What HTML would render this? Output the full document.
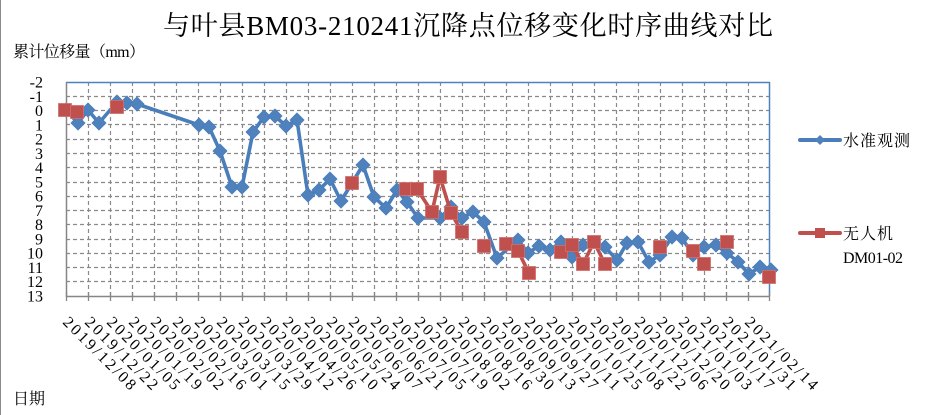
<!DOCTYPE html>
<html>
<head>
<meta charset="utf-8">
<style>
  html,body{margin:0;padding:0;background:#fff;}
  svg{display:block;}
  .cjk{font-family:"Liberation Serif","Noto Serif CJK SC",serif;fill:#000;}
  .yl{font-family:"Liberation Serif",serif;font-size:16px;fill:#000;text-anchor:end;}
  .xl{font-family:"Liberation Serif",serif;font-size:16px;fill:#000;}
</style>
</head>
<body>
<svg width="939" height="415" viewBox="0 0 939 415" xmlns="http://www.w3.org/2000/svg">
  <rect x="0" y="0" width="939" height="415" fill="#fff"/>
  <line x1="0.5" y1="0" x2="0.5" y2="415" stroke="#8a8a8a" stroke-width="1"/>

  <!-- Title -->
  <text class="cjk" x="163" y="35" font-size="27" textLength="610" lengthAdjust="spacing">与叶县BM03-210241沉降点位移变化时序曲线对比</text>
  <!-- Y axis title -->
  <text class="cjk" x="13" y="57" font-size="16" textLength="132" lengthAdjust="spacing">累计位移量（mm）</text>
  <!-- X axis title -->
  <text class="cjk" x="13" y="404" font-size="16">日期</text>

  <!-- Horizontal grid -->
  <g stroke="#8a8a8a" stroke-width="1.2" stroke-dasharray="4 3" fill="none">
    <line x1="66" y1="96.5" x2="770" y2="96.5"/>
    <line x1="66" y1="110.5" x2="770" y2="110.5"/>
    <line x1="66" y1="124.5" x2="770" y2="124.5"/>
    <line x1="66" y1="139.5" x2="770" y2="139.5"/>
    <line x1="66" y1="153.5" x2="770" y2="153.5"/>
    <line x1="66" y1="167.5" x2="770" y2="167.5"/>
    <line x1="66" y1="182.5" x2="770" y2="182.5"/>
    <line x1="66" y1="196.5" x2="770" y2="196.5"/>
    <line x1="66" y1="210.5" x2="770" y2="210.5"/>
    <line x1="66" y1="224.5" x2="770" y2="224.5"/>
    <line x1="66" y1="239.5" x2="770" y2="239.5"/>
    <line x1="66" y1="253.5" x2="770" y2="253.5"/>
    <line x1="66" y1="267.5" x2="770" y2="267.5"/>
    <line x1="66" y1="281.5" x2="770" y2="281.5"/>
  </g>
  <!-- Vertical grid -->
  <g stroke="#8a8a8a" stroke-width="1.2" stroke-dasharray="4 3" fill="none">
    <line x1="88.5" y1="82" x2="88.5" y2="296"/>
    <line x1="110.5" y1="82" x2="110.5" y2="296"/>
    <line x1="132.5" y1="82" x2="132.5" y2="296"/>
    <line x1="154.5" y1="82" x2="154.5" y2="296"/>
    <line x1="176.5" y1="82" x2="176.5" y2="296"/>
    <line x1="198.5" y1="82" x2="198.5" y2="296"/>
    <line x1="220.5" y1="82" x2="220.5" y2="296"/>
    <line x1="242.5" y1="82" x2="242.5" y2="296"/>
    <line x1="264.5" y1="82" x2="264.5" y2="296"/>
    <line x1="286.5" y1="82" x2="286.5" y2="296"/>
    <line x1="308.5" y1="82" x2="308.5" y2="296"/>
    <line x1="330.5" y1="82" x2="330.5" y2="296"/>
    <line x1="352.5" y1="82" x2="352.5" y2="296"/>
    <line x1="374.5" y1="82" x2="374.5" y2="296"/>
    <line x1="396.5" y1="82" x2="396.5" y2="296"/>
    <line x1="418.5" y1="82" x2="418.5" y2="296"/>
    <line x1="440.5" y1="82" x2="440.5" y2="296"/>
    <line x1="462.5" y1="82" x2="462.5" y2="296"/>
    <line x1="484.5" y1="82" x2="484.5" y2="296"/>
    <line x1="506.5" y1="82" x2="506.5" y2="296"/>
    <line x1="528.5" y1="82" x2="528.5" y2="296"/>
    <line x1="550.5" y1="82" x2="550.5" y2="296"/>
    <line x1="572.5" y1="82" x2="572.5" y2="296"/>
    <line x1="594.5" y1="82" x2="594.5" y2="296"/>
    <line x1="616.5" y1="82" x2="616.5" y2="296"/>
    <line x1="638.5" y1="82" x2="638.5" y2="296"/>
    <line x1="660.5" y1="82" x2="660.5" y2="296"/>
    <line x1="682.5" y1="82" x2="682.5" y2="296"/>
    <line x1="704.5" y1="82" x2="704.5" y2="296"/>
    <line x1="726.5" y1="82" x2="726.5" y2="296"/>
    <line x1="748.5" y1="82" x2="748.5" y2="296"/>
  </g>

  <!-- Plot border (top/right blue) -->
  <line x1="66" y1="82.5" x2="770" y2="82.5" stroke="#4F81BD" stroke-width="1.5"/>
  <line x1="769.5" y1="82" x2="769.5" y2="296" stroke="#4F81BD" stroke-width="1.5"/>
  <!-- Axes -->
  <line x1="66.5" y1="82" x2="66.5" y2="297" stroke="#868686" stroke-width="1.5"/>
  <line x1="66" y1="296.5" x2="770" y2="296.5" stroke="#868686" stroke-width="1.5"/>
  <g stroke="#868686" stroke-width="1.3">
    <line x1="66.5" y1="292" x2="66.5" y2="301"/>
    <line x1="88.5" y1="292" x2="88.5" y2="301"/>
    <line x1="110.5" y1="292" x2="110.5" y2="301"/>
    <line x1="132.5" y1="292" x2="132.5" y2="301"/>
    <line x1="154.5" y1="292" x2="154.5" y2="301"/>
    <line x1="176.5" y1="292" x2="176.5" y2="301"/>
    <line x1="198.5" y1="292" x2="198.5" y2="301"/>
    <line x1="220.5" y1="292" x2="220.5" y2="301"/>
    <line x1="242.5" y1="292" x2="242.5" y2="301"/>
    <line x1="264.5" y1="292" x2="264.5" y2="301"/>
    <line x1="286.5" y1="292" x2="286.5" y2="301"/>
    <line x1="308.5" y1="292" x2="308.5" y2="301"/>
    <line x1="330.5" y1="292" x2="330.5" y2="301"/>
    <line x1="352.5" y1="292" x2="352.5" y2="301"/>
    <line x1="374.5" y1="292" x2="374.5" y2="301"/>
    <line x1="396.5" y1="292" x2="396.5" y2="301"/>
    <line x1="418.5" y1="292" x2="418.5" y2="301"/>
    <line x1="440.5" y1="292" x2="440.5" y2="301"/>
    <line x1="462.5" y1="292" x2="462.5" y2="301"/>
    <line x1="484.5" y1="292" x2="484.5" y2="301"/>
    <line x1="506.5" y1="292" x2="506.5" y2="301"/>
    <line x1="528.5" y1="292" x2="528.5" y2="301"/>
    <line x1="550.5" y1="292" x2="550.5" y2="301"/>
    <line x1="572.5" y1="292" x2="572.5" y2="301"/>
    <line x1="594.5" y1="292" x2="594.5" y2="301"/>
    <line x1="616.5" y1="292" x2="616.5" y2="301"/>
    <line x1="638.5" y1="292" x2="638.5" y2="301"/>
    <line x1="660.5" y1="292" x2="660.5" y2="301"/>
    <line x1="682.5" y1="292" x2="682.5" y2="301"/>
    <line x1="704.5" y1="292" x2="704.5" y2="301"/>
    <line x1="726.5" y1="292" x2="726.5" y2="301"/>
    <line x1="748.5" y1="292" x2="748.5" y2="301"/>
    <line x1="769.5" y1="292" x2="769.5" y2="301"/>
  </g>

  <!-- Y labels -->
  <g class="yl">
    <text x="43" y="87.5">-2</text>
    <text x="43" y="101.8">-1</text>
    <text x="43" y="116">0</text>
    <text x="43" y="130.3">1</text>
    <text x="43" y="144.6">2</text>
    <text x="43" y="158.8">3</text>
    <text x="43" y="173.1">4</text>
    <text x="43" y="187.4">5</text>
    <text x="43" y="201.6">6</text>
    <text x="43" y="215.9">7</text>
    <text x="43" y="230.2">8</text>
    <text x="43" y="244.4">9</text>
    <text x="43" y="258.7">10</text>
    <text x="43" y="273">11</text>
    <text x="43" y="287.2">12</text>
    <text x="43" y="301.5">13</text>
  </g>

  <!-- X labels -->
  <g class="xl">
    <text transform="translate(62,323) rotate(45)" textLength="96" lengthAdjust="spacing">2019/12/08</text>
    <text transform="translate(84,323) rotate(45)" textLength="96" lengthAdjust="spacing">2019/12/22</text>
    <text transform="translate(106,323) rotate(45)" textLength="96" lengthAdjust="spacing">2020/01/05</text>
    <text transform="translate(128,323) rotate(45)" textLength="96" lengthAdjust="spacing">2020/01/19</text>
    <text transform="translate(150,323) rotate(45)" textLength="96" lengthAdjust="spacing">2020/02/02</text>
    <text transform="translate(172,323) rotate(45)" textLength="96" lengthAdjust="spacing">2020/02/16</text>
    <text transform="translate(194,323) rotate(45)" textLength="96" lengthAdjust="spacing">2020/03/01</text>
    <text transform="translate(216,323) rotate(45)" textLength="96" lengthAdjust="spacing">2020/03/15</text>
    <text transform="translate(238,323) rotate(45)" textLength="96" lengthAdjust="spacing">2020/03/29</text>
    <text transform="translate(260,323) rotate(45)" textLength="96" lengthAdjust="spacing">2020/04/12</text>
    <text transform="translate(282,323) rotate(45)" textLength="96" lengthAdjust="spacing">2020/04/26</text>
    <text transform="translate(304,323) rotate(45)" textLength="96" lengthAdjust="spacing">2020/05/10</text>
    <text transform="translate(326,323) rotate(45)" textLength="96" lengthAdjust="spacing">2020/05/24</text>
    <text transform="translate(348,323) rotate(45)" textLength="96" lengthAdjust="spacing">2020/06/07</text>
    <text transform="translate(370,323) rotate(45)" textLength="96" lengthAdjust="spacing">2020/06/21</text>
    <text transform="translate(392,323) rotate(45)" textLength="96" lengthAdjust="spacing">2020/07/05</text>
    <text transform="translate(414,323) rotate(45)" textLength="96" lengthAdjust="spacing">2020/07/19</text>
    <text transform="translate(436,323) rotate(45)" textLength="96" lengthAdjust="spacing">2020/08/02</text>
    <text transform="translate(458,323) rotate(45)" textLength="96" lengthAdjust="spacing">2020/08/16</text>
    <text transform="translate(480,323) rotate(45)" textLength="96" lengthAdjust="spacing">2020/08/30</text>
    <text transform="translate(502,323) rotate(45)" textLength="96" lengthAdjust="spacing">2020/09/13</text>
    <text transform="translate(524,323) rotate(45)" textLength="96" lengthAdjust="spacing">2020/09/27</text>
    <text transform="translate(546,323) rotate(45)" textLength="96" lengthAdjust="spacing">2020/10/11</text>
    <text transform="translate(568,323) rotate(45)" textLength="96" lengthAdjust="spacing">2020/10/25</text>
    <text transform="translate(590,323) rotate(45)" textLength="96" lengthAdjust="spacing">2020/11/08</text>
    <text transform="translate(612,323) rotate(45)" textLength="96" lengthAdjust="spacing">2020/11/22</text>
    <text transform="translate(634,323) rotate(45)" textLength="96" lengthAdjust="spacing">2020/12/06</text>
    <text transform="translate(656,323) rotate(45)" textLength="96" lengthAdjust="spacing">2020/12/20</text>
    <text transform="translate(678,323) rotate(45)" textLength="96" lengthAdjust="spacing">2021/01/03</text>
    <text transform="translate(700,323) rotate(45)" textLength="96" lengthAdjust="spacing">2021/01/17</text>
    <text transform="translate(722,323) rotate(45)" textLength="96" lengthAdjust="spacing">2021/01/31</text>
    <text transform="translate(744,323) rotate(45)" textLength="96" lengthAdjust="spacing">2021/02/14</text>
  </g>

  <defs>
    <path id="dia" d="M0,-7 L7,0 L0,7 L-7,0 Z" fill="#4F81BD" stroke="#4A7EBB" stroke-width="0.8"/>
    <rect id="sq" x="-6.5" y="-6.5" width="13" height="13" fill="#C0504D" stroke="#D0706D" stroke-width="0.8"/>
  </defs>

  <!-- Blue series -->
  <polyline fill="none" stroke="#4A7EBB" stroke-width="3.6" stroke-linejoin="round" stroke-linecap="round"
    points="66,110 78,123 88,110 99,123 117,102 127,103 137,104 199,125 209,127 220,151 232,187 242,187 253,132 264,117 275,116 286,126 297,120 308,195 319,190 330,179 341,201 352,183 363,165 374,197 386,208 397,190 407,202 418,218 440,218 451,207 462,218 473,212 484,222 497,258 518,240 528,253 539,246 550,250 561,242 572,257 583,245 605,247 617,260 627,243 638,242 649,262 660,255 672,237 682,238 693,255 704,247 716,245 727,253 738,262 749,274 760,267 771,270"/>
  <g>
    <use href="#dia" x="66" y="110"/><use href="#dia" x="78" y="123"/><use href="#dia" x="88" y="110"/>
    <use href="#dia" x="99" y="123"/><use href="#dia" x="117" y="102"/><use href="#dia" x="127" y="103"/>
    <use href="#dia" x="137" y="104"/><use href="#dia" x="199" y="125"/><use href="#dia" x="209" y="127"/>
    <use href="#dia" x="220" y="151"/><use href="#dia" x="232" y="187"/><use href="#dia" x="242" y="187"/>
    <use href="#dia" x="253" y="132"/><use href="#dia" x="264" y="117"/><use href="#dia" x="275" y="116"/>
    <use href="#dia" x="286" y="126"/><use href="#dia" x="297" y="120"/><use href="#dia" x="308" y="195"/>
    <use href="#dia" x="319" y="190"/><use href="#dia" x="330" y="179"/><use href="#dia" x="341" y="201"/>
    <use href="#dia" x="352" y="183"/><use href="#dia" x="363" y="165"/><use href="#dia" x="374" y="197"/>
    <use href="#dia" x="386" y="208"/><use href="#dia" x="397" y="190"/><use href="#dia" x="407" y="202"/>
    <use href="#dia" x="418" y="218"/><use href="#dia" x="440" y="218"/><use href="#dia" x="451" y="207"/>
    <use href="#dia" x="462" y="218"/><use href="#dia" x="473" y="212"/><use href="#dia" x="484" y="222"/>
    <use href="#dia" x="497" y="258"/><use href="#dia" x="518" y="240"/><use href="#dia" x="528" y="253"/>
    <use href="#dia" x="539" y="246"/><use href="#dia" x="550" y="250"/><use href="#dia" x="561" y="242"/>
    <use href="#dia" x="572" y="257"/><use href="#dia" x="583" y="245"/><use href="#dia" x="605" y="247"/>
    <use href="#dia" x="617" y="260"/><use href="#dia" x="627" y="243"/><use href="#dia" x="638" y="242"/>
    <use href="#dia" x="649" y="262"/><use href="#dia" x="660" y="255"/><use href="#dia" x="672" y="237"/>
    <use href="#dia" x="682" y="238"/><use href="#dia" x="693" y="255"/><use href="#dia" x="704" y="247"/>
    <use href="#dia" x="716" y="245"/><use href="#dia" x="727" y="253"/><use href="#dia" x="738" y="262"/>
    <use href="#dia" x="749" y="274"/><use href="#dia" x="760" y="267"/><use href="#dia" x="771" y="270"/>
  </g>

  <!-- Red series -->
  <g fill="none" stroke="#C0504D" stroke-width="3.6" stroke-linejoin="round" stroke-linecap="round">
    <polyline points="65,110 77,112"/>
    <polyline points="406,189 417,189 432,212 440,177 451,213 462,232"/>
    <polyline points="506,244 518,251 529,273"/>
    <polyline points="561,252 572,245 583,264 594,242 605,264"/>
    <polyline points="693,251 704,264"/>
  </g>
  <g>
    <use href="#sq" x="65" y="110"/><use href="#sq" x="77" y="112"/><use href="#sq" x="117" y="107"/>
    <use href="#sq" x="352" y="183"/>
    <use href="#sq" x="406" y="189"/><use href="#sq" x="417" y="189"/><use href="#sq" x="432" y="212"/>
    <use href="#sq" x="440" y="177"/><use href="#sq" x="451" y="213"/><use href="#sq" x="462" y="232"/>
    <use href="#sq" x="484" y="246"/>
    <use href="#sq" x="506" y="244"/><use href="#sq" x="518" y="251"/><use href="#sq" x="529" y="273"/>
    <use href="#sq" x="561" y="252"/><use href="#sq" x="572" y="245"/><use href="#sq" x="583" y="264"/>
    <use href="#sq" x="594" y="242"/><use href="#sq" x="605" y="264"/>
    <use href="#sq" x="660" y="247"/>
    <use href="#sq" x="693" y="251"/><use href="#sq" x="704" y="264"/>
    <use href="#sq" x="727" y="242"/>
    <use href="#sq" x="769" y="277"/>
  </g>

  <!-- Legend -->
  <line x1="800" y1="140" x2="840" y2="140" stroke="#4A7EBB" stroke-width="4" stroke-linecap="round"/>
  <path d="M820,135 L825,140 L820,145 L815,140 Z" fill="#4F81BD"/>
  <text class="cjk" x="843" y="146" font-size="16" textLength="67" lengthAdjust="spacing">水准观测</text>

  <line x1="800" y1="233" x2="840" y2="233" stroke="#C0504D" stroke-width="4" stroke-linecap="round"/>
  <rect x="815" y="228" width="10" height="10" fill="#C0504D"/>
  <text class="cjk" x="843" y="239" font-size="16" textLength="50" lengthAdjust="spacing">无人机</text>
  <text class="cjk" x="843" y="263" font-size="16" textLength="60" lengthAdjust="spacing">DM01-02</text>
</svg>
</body>
</html>
